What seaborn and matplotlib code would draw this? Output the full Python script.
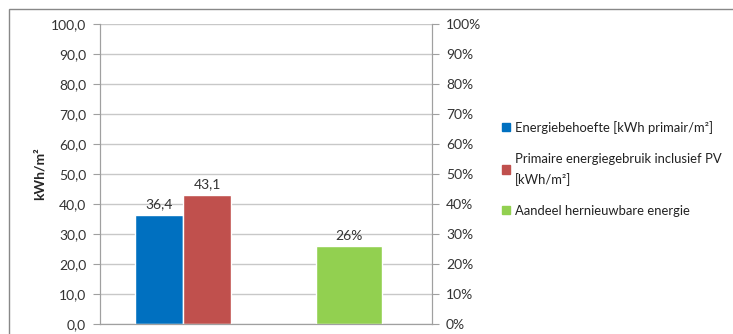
import matplotlib
matplotlib.use("Agg")
import matplotlib.pyplot as plt
from matplotlib.patches import Rectangle, Patch
from matplotlib.ticker import FuncFormatter, MultipleLocator
import seaborn as sns
import pandas as pd

# data
groups = ["kwh", "aandeel"]
series_kwh = ["Energiebehoefte [kWh primair/m²]",
              "Primaire energiegebruik inclusief PV\n[kWh/m²]"]
values_kwh = [36.4, 43.1]
series_pct = ["Aandeel hernieuwbare energie"]
values_pct = [0.26]
colors = ["#0070C0", "#C0504D", "#92D050"]

sns.set_style("white")
plt.rcParams["font.family"] = ["Lato", "DejaVu Sans"]

fig = plt.figure(figsize=(7.33, 3.34), dpi=100)
ax = fig.add_axes([100 / 733, 1 - 324 / 334, 332 / 733, 300 / 334])
ax2 = ax.twinx()

df_kwh = pd.DataFrame({"groep": [groups[0]] * 2, "serie": series_kwh, "waarde": values_kwh})
df_pct = pd.DataFrame({"groep": [groups[1]], "serie": series_pct, "waarde": values_pct})

sns.barplot(data=df_kwh, x="groep", y="waarde", hue="serie", order=groups,
            hue_order=series_kwh, palette=colors[:2], width=0.58, saturation=1,
            ax=ax, legend=False)
sns.barplot(data=df_pct, x="groep", y="waarde", order=groups, color=colors[2],
            width=0.4, saturation=1, ax=ax2)

ax.set_xlim(-0.5, 1.5)
ax.set_ylim(0, 100)
ax2.set_ylim(0, 1)
ax.yaxis.set_major_locator(MultipleLocator(10))
ax2.yaxis.set_major_locator(MultipleLocator(0.1))
ax.yaxis.set_major_formatter(FuncFormatter(lambda v, p: f"{v:.1f}".replace(".", ",")))
ax2.yaxis.set_major_formatter(FuncFormatter(lambda v, p: f"{v * 100:.0f}%"))

ax.grid(axis="y", color="#c8c8c8", linewidth=1)
ax.set_axisbelow(True)
ax.set_xticks([])
ax2.set_xticks([])
ax.set_xlabel("")
ax2.set_xlabel("")
ax2.set_ylabel("")
ax.set_ylabel("kWh/m²", fontsize=10, fontweight="bold", labelpad=4)

for a in (ax, ax2):
    for s in a.spines.values():
        s.set_color("#a0a0a0")
    a.spines["top"].set_visible(False)
    a.tick_params(axis="y", length=5, width=0.8, color="#a0a0a0",
                  labelsize=10, labelcolor="#333333", pad=5)
ax.tick_params(axis="y", left=True, right=False)
ax2.tick_params(axis="y", right=True, left=False)

for cont in ax.containers:
    ax.bar_label(cont, labels=[f"{v:.1f}".replace(".", ",") for v in cont.datavalues],
                 padding=3, fontsize=10, color="#333333")
for cont in ax2.containers:
    ax2.bar_label(cont, labels=[f"{v * 100:.0f}%" for v in cont.datavalues],
                  padding=3, fontsize=10, color="#333333")

handles = [Patch(color=c) for c in colors]
labels = series_kwh + series_pct
leg = fig.legend(handles, labels, loc="upper left", bbox_to_anchor=(490 / 733, 1 - 109 / 334),
                 frameon=False, handlelength=0.6, handleheight=0.6, handletextpad=0.4,
                 labelspacing=1.45, fontsize=9.4, labelcolor="#222222")
for t in leg.get_texts():
    t.set_linespacing(1.75)

fig.patches.append(Rectangle((9 / 733, -0.1), 1.0, 1 - 9 / 334 + 0.1, transform=fig.transFigure,
                             fill=False, edgecolor="#888888", linewidth=1))

fig.savefig("out.png", dpi=100)
